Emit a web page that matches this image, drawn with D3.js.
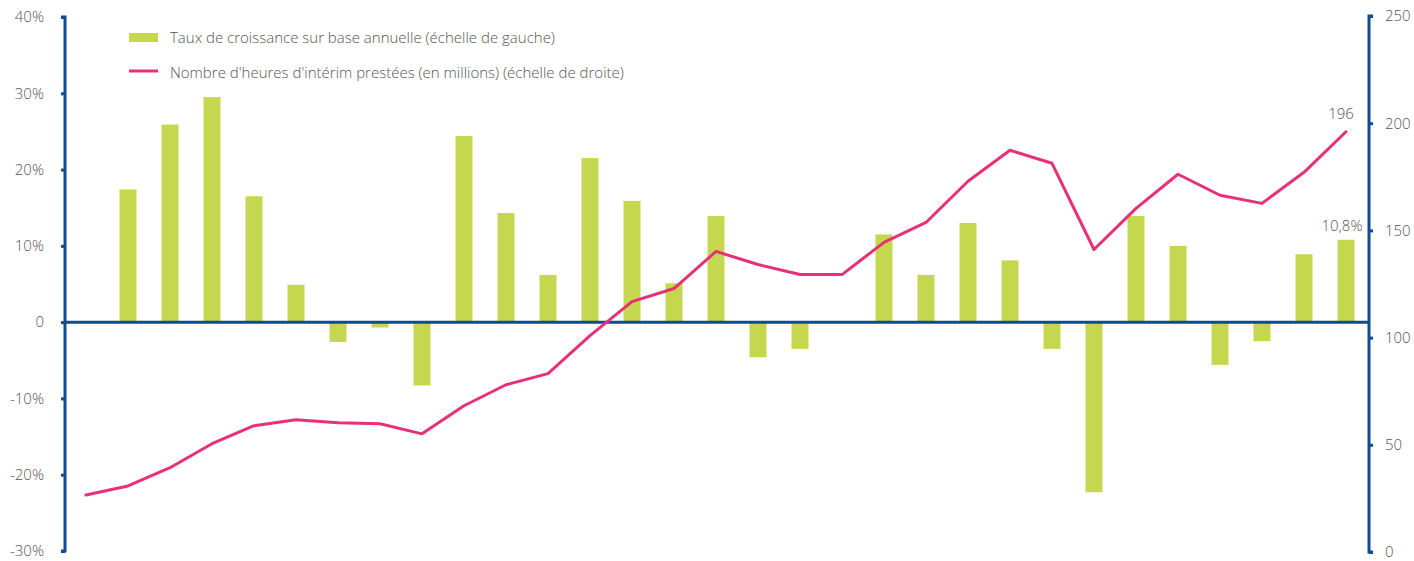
<!DOCTYPE html>
<html>
<head>
<meta charset="utf-8">
<script src="https://cdn.jsdelivr.net/npm/d3@7"></script>
<style>
  body { margin: 0; background: #fff; }
  text { font-family: "Open Sans", Lato, sans-serif; font-weight: 300; fill: #555; }
</style>
</head>
<body>
<div id="chart"></div>
<script>
// growth rate (%) – left scale, null = no bar
const growth = [null, 17.4, 25.9, 29.5, 16.5, 4.9, -2.6, -0.7, -8.3, 24.4, 14.3, 6.2, 21.5, 15.9,
  5.1, 13.9, -4.6, -3.5, null, 11.5, 6.2, 13.0, 8.1, -3.5, -22.3, 13.9, 10.0, -5.6, -2.5, 8.9, 10.8];
// hours of interim work (millions) – right scale
const hours = [26.6, 30.8, 39.3, 50.5, 58.9, 61.7, 60.3, 59.8, 55.1, 68.2, 78.0, 83.2, 100.9,
  116.8, 122.9, 140.2, 134.1, 129.4, 129.4, 144.4, 153.7, 172.9, 187.4, 181.3, 141.1, 160.3,
  176.2, 166.4, 162.6, 177.1, 196];
const leftTicks = [-30, -20, -10, 0, 10, 20, 30, 40];
const rightTicks = [0, 50, 100, 150, 200, 250];
const legendLabels = [
  "Taux de croissance sur base annuelle (échelle de gauche)",
  "Nombre d'heures d'intérim prestées (en millions) (échelle de droite)"
];

const W = 1414, H = 561;
const axisCol = '#0b4d8e', barCol = '#c5d64f', lineCol = '#e8307a';

let svg = d3.select('#chart').append('svg').attr('width', W).attr('height', H);

let x = d3.scaleLinear().domain([0, hours.length - 1]).range([86, 1346]);
let yL = d3.scaleLinear().domain([-30, 40]).range([551, 17]);
let yR = d3.scaleLinear().domain([0, 250]).range([552, 16]);

//====[ bars ]====//
const barW = 17;
svg.append('g').selectAll('rect')
  .data(growth.map((v, i) => ({v, i})).filter(d => d.v !== null))
  .enter().append('rect')
  .attr('x', d => x(d.i) - barW / 2)
  .attr('width', barW)
  .attr('y', d => yL(Math.max(0, d.v)))
  .attr('height', d => Math.abs(yL(d.v) - yL(0)))
  .attr('fill', barCol);

//====[ left axis ]====//
let axL = svg.append('g').attr('transform', 'translate(65,0)')
  .call(d3.axisLeft(yL).tickValues(leftTicks).tickSize(4).tickPadding(17)
    .tickFormat(d => d === 0 ? '0' : d + '%'));
axL.select('.domain').attr('stroke', axisCol).attr('stroke-width', 3)
  .attr('d', 'M-4,' + yL(40) + 'H0V' + yL(-30) + 'H-4');
axL.selectAll('.tick line').attr('stroke', axisCol).attr('stroke-width', 3);
axL.selectAll('.tick text').style('font-size', '15px').attr('fill', '#555');

//====[ right axis ]====//
let axR = svg.append('g').attr('transform', 'translate(1369,0)')
  .call(d3.axisRight(yR).tickValues(rightTicks).tickSize(4).tickPadding(12));
axR.select('.domain').attr('stroke', axisCol).attr('stroke-width', 3)
  .attr('d', 'M4,' + yR(250) + 'H0V' + yR(0) + 'H4');
axR.selectAll('.tick line').attr('stroke', axisCol).attr('stroke-width', 3);
axR.selectAll('.tick text').style('font-size', '15px').attr('fill', '#555');

//====[ zero line ]====//
svg.append('line')
  .attr('x1', 65).attr('x2', 1369)
  .attr('y1', yL(0)).attr('y2', yL(0))
  .attr('stroke', axisCol).attr('stroke-width', 3);

//====[ hours line ]====//
let line = d3.line().x((d, i) => x(i)).y(d => yR(d));
svg.append('path').datum(hours)
  .attr('d', line)
  .attr('fill', 'none')
  .attr('stroke', lineCol)
  .attr('stroke-width', 3)
  .attr('stroke-linejoin', 'round')
  .attr('stroke-linecap', 'round');

//====[ end labels ]====//
const last = hours.length - 1;
svg.append('text').attr('x', x(last) - 5).attr('y', yR(hours[last]) - 13)
  .attr('text-anchor', 'middle').style('font-size', '15px').text(hours[last]);
svg.append('text').attr('x', x(last) - 4).attr('y', yL(growth[last]) - 9)
  .attr('text-anchor', 'middle').style('font-size', '15px')
  .text(String(growth[last]).replace('.', ',') + '%');

//====[ legend ]====//
let lg = svg.append('g').attr('transform', 'translate(129,0)');
lg.append('rect').attr('x', 0).attr('y', 33).attr('width', 29).attr('height', 9).attr('fill', barCol);
lg.append('text').attr('x', 41).attr('y', 43).style('font-size', '15px').text(legendLabels[0]);
lg.append('line').attr('x1', 0).attr('x2', 29).attr('y1', 71).attr('y2', 71)
  .attr('stroke', lineCol).attr('stroke-width', 3);
lg.append('text').attr('x', 41).attr('y', 78).style('font-size', '15px').text(legendLabels[1]);
</script>
</body>
</html>
